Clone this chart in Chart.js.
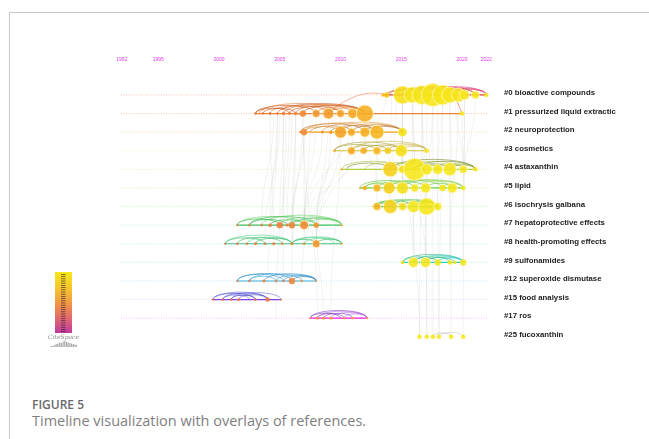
<!DOCTYPE html>
<html>
<head>
<meta charset="utf-8">
<script src="https://cdn.jsdelivr.net/npm/chart.js@4.4.0/dist/chart.umd.min.js"></script>
<style>
  html, body { margin: 0; padding: 0; background: #fff; width: 649px; height: 439px; overflow: hidden; }
  #frame { position: absolute; left: 9px; top: 12px; width: 640px; height: 427px;
           border-left: 1px solid #c8c8c8; border-top: 1px solid #c8c8c8; }
  #chart { position: absolute; left: 0; top: 0; }
  .fig-no { position: absolute; left: 32px; top: 396px; font: 600 12px 'Open Sans', sans-serif; color: #6a6a6a; }
  .fig-title { position: absolute; left: 32px; top: 411px; font: 14.5px 'Open Sans', sans-serif; color: #808080; }
</style>
</head>
<body>
<div id="frame"></div>
<canvas id="chart" width="649" height="370"></canvas>
<div class="fig-no">FIGURE 5</div>
<div class="fig-title">Timeline visualization with overlays of references.</div>
<script>
// ---- timeline axis ----
const yearTicks = [1992, 1995, 2000, 2005, 2010, 2015, 2020, 2022];
const yearRange = [1991.93, 2022.14];

// ---- cluster labels (one timeline row each) ----
const clusterLabels = [
  '#0 bioactive compounds', '#1 pressurized liquid extractic', '#2 neuroprotection',
  '#3 cosmetics', '#4 astaxanthin', '#5 lipid', '#6 isochrysis galbana',
  '#7 hepatoprotective effects', '#8 health-promoting effects', '#9 sulfonamides',
  '#12 superoxide dismutase', '#15 food analysis', '#17 ros', '#25 fucoxanthin'
];

// ---- cited references per cluster: [publication year, node radius] ----
const nodes0  = [[2013.5,1.5],[2013.8,2.5],[2015.1,9],[2015.9,8],[2016.7,9.5],[2017.6,11.5],[2018.4,10],[2019.0,8],[2019.7,7],[2020.2,5],[2021.1,4],[2022.0,2]];
const nodes1  = [[2003.0,1],[2003.6,1],[2004.2,1.2],[2004.8,1],[2005.3,1.5],[2005.8,1.2],[2006.3,1.5],[2006.9,3],[2008.0,4],[2009.0,5.5],[2010.0,4],[2011.0,5],[2012.0,8.5],[2020.0,2]];
const nodes2  = [[2006.7,1],[2007.0,3],[2008.5,1.2],[2009.2,1.5],[2010.0,6],[2010.9,4],[2012.0,5],[2013.0,7],[2015.1,4.5]];
const nodes3  = [[2009.5,1],[2010.9,4],[2011.9,3],[2013.0,4],[2013.9,3],[2015.0,6],[2017.1,2]];
const nodes4  = [[2010.1,0.8],[2014.1,7.5],[2015.1,4],[2016.1,11],[2017.1,5.5],[2018.0,5],[2019.0,6.5],[2020.1,4],[2021.1,2]];
const nodes5  = [[2011.6,0.8],[2012.0,2],[2013.0,4],[2014.0,6],[2015.1,6],[2016.1,4],[2017.0,5],[2018.4,3],[2019.2,5],[2020.1,2]];
const nodes6  = [[2012.7,0.8],[2013.0,4],[2014.1,7],[2015.1,4],[2016.0,6],[2017.1,8.5],[2018.0,4]];
const nodes7  = [[2001.5,0.8],[2002.5,1],[2003.5,1],[2004.2,1.5],[2005.0,3],[2005.6,1.2],[2006.0,3],[2007.0,4.5],[2008.0,2.5],[2010.1,0.8]];
const nodes8  = [[2000.5,0.8],[2001.5,1],[2002.3,1],[2003.0,1.2],[2003.8,1],[2004.5,1.2],[2005.2,1],[2006.0,1.2],[2007.0,1],[2008.0,4],[2010.1,0.8]];
const nodes9  = [[2015.1,1.5],[2016.0,5],[2017.0,5],[2018.0,3],[2019.0,2],[2019.4,1.5],[2020.1,3]];
const nodes12 = [[2001.5,0.8],[2002.5,1],[2003.7,1.2],[2004.7,1],[2005.3,1],[2006.0,3],[2006.8,1],[2008.0,0.8]];
const nodes15 = [[1999.5,0.8],[2000.3,1],[2001.0,1],[2001.6,1.2],[2003.0,1],[2004.0,2],[2005.1,0.8]];
const nodes17 = [[2007.5,0.8],[2008.1,1.2],[2008.6,1.2],[2009.2,1.2],[2010.3,1],[2011.0,1],[2012.2,0.8]];
const nodes25 = [[2016.5,2],[2017.1,2],[2017.6,2],[2018.1,2],[2019.1,2],[2020.1,2]];

// ---- co-citation links inside each cluster: [year A, year B] ----
const arcs0  = [[2013.8,2016.7],[2014.5,2019],[2015.1,2018.4],[2015.1,2020.2],[2015.9,2021.1],[2016.7,2022],[2017.6,2021.1],[2017.6,2022],[2018.4,2022],[2019,2022],[2014,2017.6],[2016,2019.7]];
const arcs1  = [[2003,2008],[2003.3,2010],[2003.6,2006.3],[2004.2,2009],[2004.8,2012],[2005.3,2011],[2005.8,2010],[2006.3,2012],[2006.9,2012],[2008,2012],[2003,2005.8],[2009,2012]];
const arcs2  = [[2006.7,2012],[2007,2013],[2007.5,2011],[2008.5,2015.1],[2009.2,2013],[2010,2015.1],[2010.9,2015.1],[2007,2010],[2012,2015.1]];
const arcs3  = [[2009.5,2015],[2010.9,2017.1],[2011.9,2015],[2013,2017.1],[2009.5,2013],[2013.9,2017.1],[2010.9,2013.9],[2015,2017.1]];
const arcs4  = [[2010.1,2015.1],[2010.5,2014.1],[2012,2016.1],[2014.1,2021.1],[2015.1,2020.1],[2016.1,2021.1],[2017.1,2020.1],[2016.1,2019],[2018,2021.1],[2019,2021.1],[2014.1,2018]];
const arcs5  = [[2011.6,2016.1],[2012,2015.1],[2013,2017],[2014,2018.4],[2015.1,2020.1],[2016.1,2020.1],[2017,2019.2],[2018.4,2020.1],[2012,2014],[2014,2019.2]];
const arcs6  = [[2012.7,2016],[2013,2017.1],[2014.1,2018],[2012.7,2015.1],[2015.1,2018],[2016,2018],[2013,2014.1]];
const arcs7  = [[2001.5,2005],[2001.5,2007],[2002.5,2008],[2003.5,2010.1],[2004.2,2007],[2005,2010.1],[2006,2010.1],[2007,2010.1],[2002.5,2005.6],[2005.6,2008]];
const arcs8  = [[2000.5,2003.8],[2000.5,2006],[2001.5,2005.2],[2002.3,2006],[2003,2006],[2006,2010.1],[2006,2008],[2007,2010.1],[2008,2010.1],[2006,2009.5]];
const arcs9  = [[2015.1,2020.1],[2016,2020.1],[2016,2019],[2017,2020.1],[2017,2019.4],[2018,2020.1],[2015.1,2018]];
const arcs12 = [[2001.5,2005.3],[2001.5,2006],[2002.5,2006.8],[2003.7,2008],[2004.7,2008],[2005.3,2008],[2002.5,2004.7],[2006,2008]];
const arcs15 = [[1999.5,2003],[1999.5,2004],[2000.3,2004],[2001,2005.1],[2001.6,2004],[2000.3,2002.5],[2001,2003]];
const arcs17 = [[2007.5,2012.2],[2008.1,2012.2],[2008.6,2011],[2009.2,2012.2],[2008.1,2010.3],[2010.3,2012.2],[2007.5,2010]];
const arcs25 = [[2017.6,2019.1],[2018.1,2020.1]];

const clusterNodes = [nodes0, nodes1, nodes2, nodes3, nodes4, nodes5, nodes6, nodes7, nodes8, nodes9, nodes12, nodes15, nodes17, nodes25];
const clusterArcs  = [arcs0, arcs1, arcs2, arcs3, arcs4, arcs5, arcs6, arcs7, arcs8, arcs9, arcs12, arcs15, arcs17, arcs25];

// ---- links between clusters: [row A, year A, row B, year B] ----
const crossLinks = [
  [1,2004.8,7,2004.2],[1,2005.3,7,2005.0],[1,2005.8,8,2005.2],[1,2006.3,7,2006.0],[1,2006.9,8,2006.0],
  [1,2008.0,7,2007.0],[1,2009.0,8,2008.0],[1,2010.0,7,2008.0],[1,2004.2,8,2004.5],[1,2006.3,10,2006.0],
  [1,2005.3,10,2005.3],[1,2004.8,11,2004.0],[2,2007.0,7,2006.0],[2,2007.0,8,2007.0],[2,2010.0,8,2008.0],
  [2,2009.2,10,2006.8],[1,2012.0,8,2008.0],[1,2011.0,7,2007.0],[1,2006.9,12,2008.1],[7,2008.0,12,2008.6],
  [2,2010.0,12,2009.2],[1,2005.0,8,2003.8],[1,2006.0,7,2005.6],[2,2008.5,7,2007.0],
  [1,2004.5,7,2003.5],[1,2007.5,8,2007.0],[2,2011.0,7,2008.0],[1,2005.5,12,2004.7],[2,2012.0,8,2006.0],
  [0,2015.1,4,2015.1],[0,2015.9,4,2016.1],[0,2016.7,5,2017.0],[0,2017.6,6,2017.1],[0,2018.4,4,2018.0],
  [0,2019.0,5,2019.2],[0,2019.7,9,2019.0],[0,2020.2,9,2020.1],[0,2016.7,9,2017.0],[0,2015.9,9,2016.0],
  [0,2017.6,13,2017.6],[0,2016.7,13,2016.5],[0,2018.4,13,2018.1],[0,2019.0,13,2019.1],[0,2020.2,13,2020.1],
  [0,2017.1,13,2017.1],[1,2020.0,4,2020.1],[0,2014.6,6,2014.1],[0,2015.1,6,2015.1],[2,2013.0,6,2013.0],
  [2,2015.1,5,2015.1],[3,2015.0,9,2016.0],[4,2016.1,9,2017.0],[4,2018.0,13,2018.1],[5,2017.0,13,2017.1],
  [2,2012.0,5,2013.0],[0,2013.8,2,2013.0],[0,2015.1,3,2015.0],[2,2010.0,1,2009.0],[4,2019.0,9,2019.0],
  [6,2016.0,13,2016.5],[0,2021.1,5,2020.1],[3,2013.0,6,2014.1],[1,2012.0,4,2014.1],
  [0,2016.0,5,2016.1],[0,2018.0,6,2018.0],[0,2019.4,4,2020.1],[0,2014.2,4,2014.1],[1,2012.0,2,2013.0]
];
const colouredLinks = [[1,2009.0,0,2013.8,'rgba(240,140,100,0.8)'],[1,2020.0,0,2018.4,'rgba(225,110,80,0.8)']];

// ---- per-cluster colours: arcs (two tones), dotted baseline, solid span ----
const arcColours = [
  ['#d42a2a','#e0509a'],['#c04a10','#e07020'],['#a86018','#e09030'],['#a09820','#c8b040'],
  ['#a8c030','#708020'],['#50c030','#90d040'],['#30b030','#60c840'],['#28b040','#60d060'],
  ['#20b050','#40d080'],['#20b070','#20c8c0'],['#30a0d8','#2080c0'],['#4040c8','#6060e0'],
  ['#8040c8','#b060d8'],['#b8b8b8','#c8c8c8']
];
const baseColours = ['#f7c4b8','#f8c8b0','#f8e0b0','#f4eec0','#e8f4c0','#d8f4c0','#cdf4c8','#c4f4d8','#c0f4e0','#b8f4ec','#c8e4f6','#dcd4f6','#f6b8f6',null];
const spanColours = ['#e04040','#f08030','#f0a020','#d0c030','#b0d040','#70d040','#40c040','#40c060','#40c080','#20d0d0','#40b0e0','#8040e0','#f020f0',null];

// node colour follows publication year (older = orange, recent = yellow)
const yearStops = [[2000,[236,110,62]],[2005,[239,125,60]],[2010,[245,160,35]],[2013,[247,180,30]],[2014.5,[246,218,20]],[2016,[246,230,24]]];
function yearColour(y, a) {
  let c = yearStops[yearStops.length - 1][1];
  if (y <= yearStops[0][0]) c = yearStops[0][1];
  for (let i = 0; i < yearStops.length - 1; i++) {
    const [y0, c0] = yearStops[i], [y1, c1] = yearStops[i + 1];
    if (y >= y0 && y <= y1) {
      const t = (y - y0) / (y1 - y0);
      c = c0.map((v, k) => Math.round(v + (c1[k] - v) * t));
    }
  }
  return `rgba(${c[0]},${c[1]},${c[2]},${a})`;
}

// ---- datasets ----
const datasets = [];
clusterNodes.forEach((list, row) => {
  if (baseColours[row]) {
    datasets.push({
      type: 'line', order: 3,
      data: [{x: yearRange[0], y: row}, {x: yearRange[1], y: row}],
      borderColor: baseColours[row], borderWidth: 1, borderDash: [1, 1.5],
      pointRadius: 0
    });
  }
  if (spanColours[row]) {
    datasets.push({
      type: 'line', order: 2,
      data: [{x: list[0][0], y: row}, {x: list[list.length - 1][0], y: row}],
      borderColor: spanColours[row], borderWidth: 1.2, pointRadius: 0
    });
  }
});
clusterNodes.forEach((list, row) => {
  datasets.push({
    type: 'bubble', order: 0, clip: false,
    data: list.map(([yr, r]) => ({x: yr, y: row, r: r})),
    backgroundColor: ctx => yearColour(ctx.raw.x, 0.88),
    borderColor: ctx => ctx.raw.r > 3 ? 'rgba(255,250,200,0.75)' : yearColour(ctx.raw.x, 1),
    borderWidth: ctx => ctx.raw.r > 3 ? 1 : 0.5
  });
});

// arcs and cross-cluster links, painted beneath the datasets
const linkPlugin = {
  id: 'links',
  beforeDatasetsDraw(chart) {
    const {ctx} = chart, xs = chart.scales.x, ys = chart.scales.y;
    ctx.save();
    const curve = (r1, y1, r2, y2, colour, w) => {
      const ax = xs.getPixelForValue(y1), ay = ys.getPixelForValue(r1);
      const bx = xs.getPixelForValue(y2), by = ys.getPixelForValue(r2);
      const my = (ay + by) / 2;
      ctx.beginPath();
      ctx.moveTo(ax, ay);
      ctx.bezierCurveTo(ax, my, bx, my, bx, by);
      ctx.strokeStyle = colour; ctx.lineWidth = w; ctx.stroke();
    };
    crossLinks.forEach(l => curve(l[0], l[1], l[2], l[3], 'rgba(160,160,160,0.22)', 0.6));
    colouredLinks.forEach(l => {
      const ax = xs.getPixelForValue(l[1]), ay = ys.getPixelForValue(l[0]);
      const bx = xs.getPixelForValue(l[3]), by = ys.getPixelForValue(l[2]);
      ctx.beginPath();
      ctx.moveTo(ax, ay);
      ctx.quadraticCurveTo((ax + bx) / 2, Math.min(ay, by) - 8, bx, by);
      ctx.strokeStyle = l[4]; ctx.lineWidth = 0.8; ctx.stroke();
    });
    clusterArcs.forEach((arcs, row) => {
      const py = ys.getPixelForValue(row);
      arcs.forEach((a, i) => {
        const x1 = xs.getPixelForValue(a[0]), x2 = xs.getPixelForValue(a[1]);
        const rx = Math.abs(x2 - x1) / 2, h = Math.min(10, 2 + rx * 0.2);
        ctx.beginPath();
        ctx.ellipse((x1 + x2) / 2, py, rx, h, 0, Math.PI, 2 * Math.PI);
        ctx.strokeStyle = arcColours[row][i % 2];
        ctx.globalAlpha = 0.7;
        ctx.lineWidth = 0.8;
        ctx.stroke();
        ctx.globalAlpha = 1;
      });
    });
    ctx.restore();
  }
};

// colour scale bar and program mark at lower left
const legendPlugin = {
  id: 'yearLegend',
  afterDraw(chart) {
    const {ctx} = chart;
    ctx.save();
    const g = ctx.createLinearGradient(0, 272, 0, 333);
    g.addColorStop(0, '#f7e81a');
    g.addColorStop(0.3, '#f5c030');
    g.addColorStop(0.55, '#f09048');
    g.addColorStop(0.8, '#dc6078');
    g.addColorStop(1, '#c03aa0');
    ctx.fillStyle = g;
    ctx.fillRect(55, 272, 17, 61);
    ctx.fillStyle = 'rgba(50,30,50,0.75)';
    for (let y = 274; y < 332; y += 2.2) ctx.fillRect(61, y, 4.5, 0.8);
    ctx.fillStyle = '#8a8a8a';
    ctx.font = 'italic 6px "DejaVu Serif", serif';
    ctx.textAlign = 'center';
    ctx.fillText('CiteSpace', 63.5, 339);
    ctx.fillStyle = 'rgba(140,140,140,0.8)';
    const bars = [1,2,2.5,3.5,3,4.5,5,4,3.5,3,2.5,2,1.5,1];
    bars.forEach((h, i) => ctx.fillRect(54 + i * 1.7, 346 - h, 1.1, h));
    ctx.fillRect(50, 346, 27, 0.7);
    ctx.restore();
  }
};

new Chart(document.getElementById('chart'), {
  data: {datasets},
  options: {
    responsive: false,
    animation: false,
    events: [],
    layout: {padding: {left: 121, top: 53, right: 0, bottom: 20}},
    plugins: {legend: {display: false}, tooltip: {enabled: false}},
    scales: {
      x: {
        type: 'linear', position: 'top', min: yearRange[0], max: yearRange[1],
        grid: {display: false, drawTicks: false}, border: {display: false},
        ticks: {color: '#e040e8', font: {size: 5, family: 'Liberation Sans'}, padding: 2,
                autoSkip: false, maxRotation: 0, callback: v => String(v)},
        afterBuildTicks: s => { s.ticks = yearTicks.map(v => ({value: v})); },
        afterFit: s => { s.height = 12; }
      },
      y: {
        type: 'linear', position: 'right', reverse: true, min: -1.6086, max: 13.673,
        grid: {display: false, drawTicks: false}, border: {display: false},
        ticks: {color: '#222', font: {size: 7.8, weight: 'bold', family: 'Liberation Sans'},
                padding: 16, labelOffset: -2, crossAlign: 'near', autoSkip: false,
                callback: v => clusterLabels[v]},
        afterBuildTicks: s => { s.ticks = clusterLabels.map((_, i) => ({value: i})); },
        afterFit: s => { s.width = 161; }
      }
    }
  },
  plugins: [linkPlugin, legendPlugin]
});
</script>
</body>
</html>
